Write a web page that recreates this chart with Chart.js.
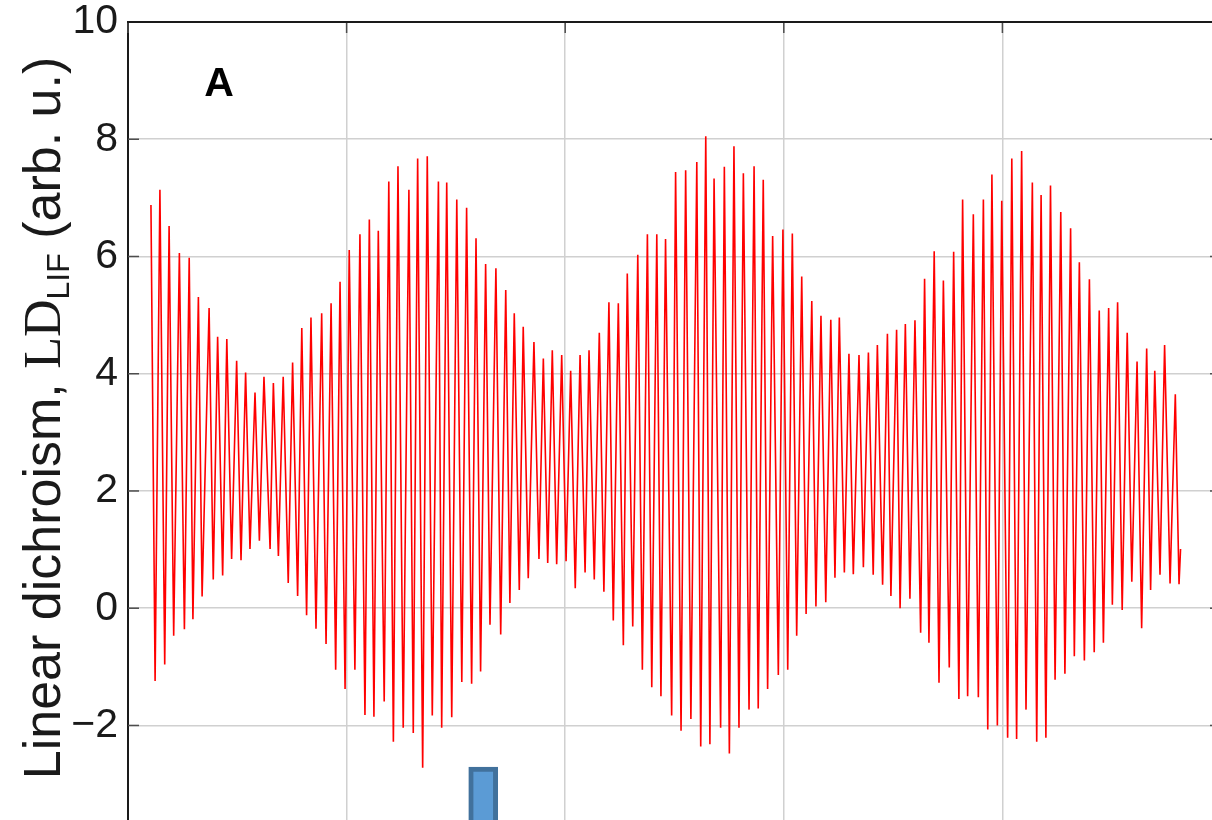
<!DOCTYPE html>
<html>
<head>
<meta charset="utf-8">
<script src="https://cdn.jsdelivr.net/npm/chart.js@4.4.1/dist/chart.umd.min.js"></script>
<style>
  html, body { margin: 0; padding: 0; background: #ffffff; overflow: hidden; }
  #wrap { position: relative; width: 1232px; height: 872px; }
</style>
</head>
<body>
<div id="wrap"><canvas id="c" width="1232" height="872"></canvas></div>
<script>
// Time axis of the LIF trace (grid spacing = 1 unit)
const timeAxis = [
  0.105,0.124,0.146,0.168,0.188,0.209,0.235,0.258,0.280,0.297,
  0.322,0.339,0.371,0.390,0.410,0.433,0.452,0.474,0.497,0.517,
  0.538,0.558,0.581,0.601,0.622,0.650,0.665,0.688,0.710,0.733,
  0.753,0.776,0.795,0.817,0.837,0.860,0.886,0.906,0.929,0.950,
  0.970,0.993,1.012,1.038,1.061,1.084,1.104,1.125,1.145,1.172,
  1.193,1.214,1.235,1.259,1.285,1.305,1.325,1.348,1.369,1.392,
  1.420,1.435,1.458,1.481,1.504,1.527,1.549,1.572,1.592,1.613,
  1.636,1.656,1.683,1.705,1.728,1.747,1.767,1.790,1.808,1.831,
  1.857,1.880,1.900,1.920,1.941,1.961,1.984,2.004,2.025,2.046,
  2.068,2.091,2.109,2.133,2.156,2.177,2.200,2.220,2.243,2.266,
  2.284,2.309,2.332,2.353,2.376,2.396,2.419,2.438,2.459,2.487,
  2.505,2.530,2.551,2.575,2.602,2.620,2.643,2.662,2.681,2.711,
  2.728,2.751,2.772,2.795,2.815,2.841,2.864,2.883,2.906,2.926,
  2.949,2.975,2.996,3.018,3.039,3.059,3.082,3.102,3.128,3.147,
  3.170,3.192,3.215,3.234,3.254,3.277,3.298,3.318,3.344,3.364,
  3.387,3.409,3.428,3.452,3.474,3.490,3.516,3.532,3.556,3.577,
  3.600,3.626,3.644,3.664,3.688,3.710,3.730,3.757,3.777,3.801,
  3.818,3.841,3.867,3.890,3.913,3.933,3.952,3.977,3.997,4.024,
  4.043,4.065,4.088,4.108,4.137,4.157,4.177,4.199,4.220,4.241,
  4.267,4.286,4.312,4.329,4.352,4.375,4.398,4.420,4.443,4.462,
  4.486,4.503,4.527,4.548,4.571,4.592,4.616,4.637,4.660,4.678,
  4.697,4.721,4.742,4.767,4.791,4.808,4.815
];

// Linear dichroism signal LD_LIF (arb. u.)
const ldSignal = [
  6.88,-1.24,7.14,-0.96,6.52,-0.47,6.06,-0.36,5.98,-0.19,
  5.31,0.20,5.12,0.49,4.63,0.56,4.59,0.84,4.22,0.82,
  4.02,1.01,3.68,1.15,3.95,1.01,3.84,0.89,3.95,0.43,
  4.19,0.21,4.78,-0.12,4.96,-0.35,5.03,-0.61,5.20,-1.05,
  5.57,-1.38,6.11,-1.05,6.38,-1.82,6.63,-1.85,6.44,-1.59,
  7.28,-2.28,7.54,-2.04,7.14,-2.13,7.67,-2.72,7.71,-1.83,
  7.28,-2.04,7.26,-1.86,6.97,-1.26,6.83,-1.29,6.31,-1.08,
  5.87,-0.28,5.80,-0.45,5.43,0.09,5.03,0.31,4.80,0.51,
  4.54,0.84,4.26,0.77,4.40,0.75,4.32,0.80,4.05,0.34,
  4.32,0.61,4.40,0.49,4.70,0.28,5.22,-0.21,5.20,-0.63,
  5.71,-0.31,6.03,-1.05,6.38,-1.35,6.38,-1.50,6.30,-1.83,
  7.44,-2.09,7.47,-1.89,7.61,-2.36,8.05,-2.32,7.33,-2.04,
  7.53,-2.48,7.88,-2.04,7.42,-1.73,7.54,-1.71,7.31,-1.38,
  6.35,-1.14,6.46,-1.05,6.39,-0.47,5.66,-0.10,5.24,0.03,
  4.99,0.10,4.92,0.52,4.96,0.61,4.34,0.58,4.32,0.70,
  4.36,0.57,4.49,0.40,4.68,0.21,4.75,0.00,4.85,0.16,
  4.91,-0.42,5.62,-0.59,6.09,-1.27,5.59,-1.01,6.08,-1.55,
  6.97,-1.50,6.72,-1.52,6.97,-2.07,7.40,-2.00,6.95,-2.21,
  7.67,-2.23,7.80,-1.73,7.26,-2.28,7.05,-2.21,7.21,-1.22,
  6.76,-1.12,6.48,-0.82,5.90,-0.89,5.61,-0.75,5.08,-0.59,
  5.12,0.06,5.22,-0.03,4.70,0.45,4.21,-0.34,4.43,0.31,
  4.05,0.57,4.49,0.42,3.65,0.41,1.01
];

// Axis ticks
const yTickValues = [10, 8, 6, 4, 2, 0, -2];
const xGridValues = [0, 1, 2, 3, 4, 5];

// Excitation pulse marker (time, [bottom, top])
const pulseTime = [1.625];
const pulseRange = [[-4.5, -2.71]];

const panelLetter = 'A';
const yTitleParts = { before: 'Linear dichroism, ', symbol: 'LD', sub: 'LIF', after: ' (arb. u.)' };

const SANS = "'Liberation Sans', Arial, Helvetica, sans-serif";
const SERIF = "'Liberation Serif', 'Times New Roman', serif";

const fmtTick = v => (v < 0 ? '\u2212' + Math.abs(v) : String(v));

// Box frame, inward tick marks, panel letter and y-axis title
const decorPlugin = {
  id: 'decor',
  afterDraw(chart) {
    const { ctx, chartArea: a, scales: { x, y } } = chart;
    const seg = (x1, y1, x2, y2) => { ctx.beginPath(); ctx.moveTo(x1, y1); ctx.lineTo(x2, y2); ctx.stroke(); };
    ctx.save();
    // inward ticks
    ctx.strokeStyle = '#4d4d4d';
    ctx.lineWidth = 1.5;
    const tl = 11;
    yTickValues.forEach(v => {
      const py = y.getPixelForValue(v);
      seg(a.left, py, a.left + tl, py);
      seg(a.right - tl, py, a.right, py);
    });
    xGridValues.forEach(v => {
      const px = x.getPixelForValue(v);
      seg(px, a.top, px, a.top + tl);
    });
    // top and right frame lines
    ctx.strokeStyle = '#1a1a1a';
    ctx.lineWidth = 2;
    seg(a.left - 1, a.top, a.right, a.top);
    seg(a.right, a.top, a.right, a.bottom);

    // panel letter
    ctx.fillStyle = '#000';
    ctx.font = `bold 41px ${SANS}`;
    ctx.textAlign = 'center';
    ctx.textBaseline = 'middle';
    ctx.fillText(panelLetter, a.left + 91, a.top + 63);

    // rotated y-axis title with serif symbol and subscript
    const S = 52;
    const fMain = `${S}px ${SANS}`;
    const fSym = `${S}px ${SERIF}`;
    const fSub = `${Math.round(S * 0.62)}px ${SANS}`;
    ctx.font = fMain; const w1 = ctx.measureText(yTitleParts.before).width;
    ctx.font = fSym;  const w2 = ctx.measureText(yTitleParts.symbol).width;
    ctx.font = fSub;  const w3 = ctx.measureText(yTitleParts.sub).width;
    ctx.font = fMain; const w4 = ctx.measureText(yTitleParts.after).width;
    const total = w1 + w2 + w3 + w4;
    const cy = 418;
    ctx.translate(60, cy);
    ctx.rotate(-Math.PI / 2);
    ctx.textAlign = 'left';
    ctx.textBaseline = 'alphabetic';
    ctx.fillStyle = '#1a1a1a';
    let tx = -total / 2;
    ctx.font = fMain; ctx.fillText(yTitleParts.before, tx, 0); tx += w1;
    ctx.font = fSym;  ctx.fillText(yTitleParts.symbol, tx, 0); tx += w2;
    ctx.font = fSub;  ctx.fillText(yTitleParts.sub, tx, S * 0.18); tx += w3;
    ctx.font = fMain; ctx.fillText(yTitleParts.after, tx, 0);
    ctx.restore();
  }
};

new Chart(document.getElementById('c'), {
  type: 'line',
  data: {
    datasets: [
      {
        type: 'line',
        data: timeAxis.map((t, i) => ({ x: t, y: ldSignal[i] })),
        borderColor: '#ff0000',
        borderWidth: 1.6,
        pointRadius: 0,
        tension: 0,
        fill: false,
        order: 2
      },
      {
        type: 'bar',
        data: pulseTime.map((t, i) => ({ x: t, y: pulseRange[i] })),
        backgroundColor: '#5b9bd5',
        borderColor: '#41719c',
        borderWidth: 5,
        borderSkipped: false,
        barThickness: 29,
        grouped: false,
        order: 1
      }
    ]
  },
  options: {
    responsive: false,
    animation: false,
    events: [],
    layout: { padding: { left: 0, top: 22, right: 11, bottom: 0 } },
    plugins: { legend: { display: false }, tooltip: { enabled: false } },
    scales: {
      x: {
        type: 'linear',
        min: 0,
        max: 5,
        offset: false,
        afterBuildTicks: s => { s.ticks = xGridValues.map(v => ({ value: v })); },
        afterFit: s => { s.height = 0; s.paddingLeft = 0; s.paddingRight = 0; },
        ticks: { display: false },
        grid: { color: '#d0d0d0', lineWidth: 1.5, drawTicks: false, offset: false },
        border: { display: false }
      },
      y: {
        type: 'linear',
        min: -4.5,
        max: 10,
        afterBuildTicks: s => { s.ticks = yTickValues.map(v => ({ value: v })); },
        afterFit: s => { s.width = 128; s.paddingTop = 0; s.paddingBottom = 0; },
        ticks: {
          callback: v => fmtTick(v),
          color: '#1a1a1a',
          padding: 10,
          font: { family: SANS, size: 41, lineHeight: 1 }
        },
        grid: { color: '#d0d0d0', lineWidth: 1.5, drawTicks: false },
        border: { display: true, color: '#1a1a1a', width: 2 }
      }
    }
  },
  plugins: [decorPlugin]
});
</script>
</body>
</html>
